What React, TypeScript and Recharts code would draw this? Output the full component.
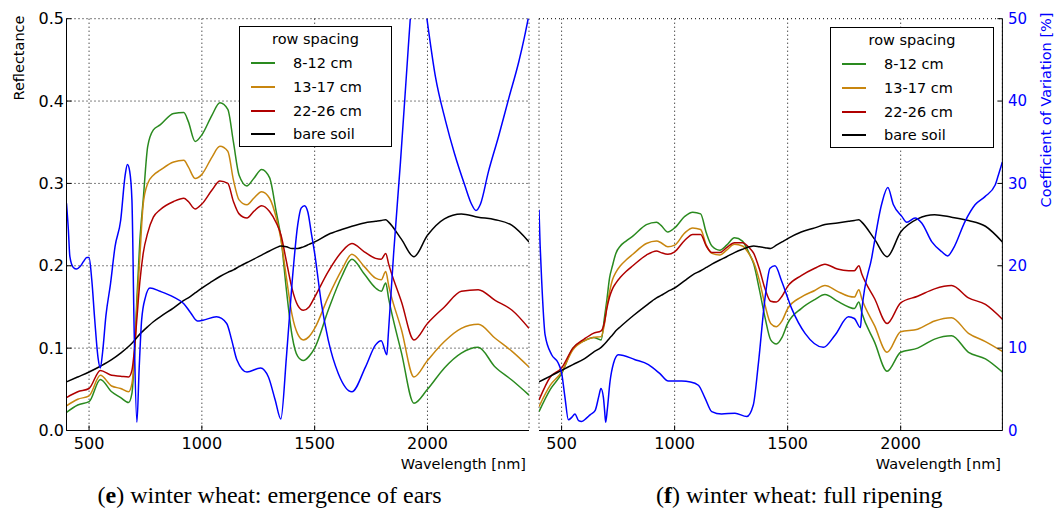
import { CartesianGrid, Line, LineChart, XAxis, YAxis } from 'recharts';

// wavelength grid [nm] shared by the reflectance curves
const wavelengths = [
  400, 450, 500, 550, 600, 640, 675, 690, 700, 712, 725, 740, 760, 785, 815, 875, 920, 940, 970, 1000,
  1045, 1080, 1115, 1140, 1165, 1200, 1230, 1265, 1300, 1330, 1350, 1375, 1400, 1425, 1450, 1475, 1500,
  1560, 1620, 1665, 1720, 1770, 1795, 1815, 1828, 1885, 1940, 2000, 2075, 2150, 2225, 2300, 2375, 2450,
];

// (e) emergence of ears
const green8to12E = [
  0.022, 0.031, 0.035, 0.062, 0.047, 0.04, 0.034, 0.045, 0.085, 0.16, 0.23, 0.28, 0.345, 0.365, 0.371,
  0.385, 0.386, 0.375, 0.351, 0.359, 0.383, 0.398, 0.39, 0.35, 0.31, 0.297, 0.306, 0.317, 0.307, 0.265,
  0.235, 0.17, 0.115, 0.09, 0.085, 0.09, 0.1, 0.146, 0.187, 0.208, 0.19, 0.173, 0.169, 0.179, 0.16,
  0.094, 0.033, 0.05, 0.076, 0.094, 0.101, 0.077, 0.061, 0.043,
];
const orange13to17E = [
  0.03, 0.038, 0.042, 0.067, 0.054, 0.051, 0.047, 0.057, 0.085, 0.15, 0.21, 0.275, 0.3, 0.31, 0.316,
  0.326, 0.328, 0.32, 0.306, 0.311, 0.332, 0.345, 0.339, 0.304, 0.28, 0.274, 0.282, 0.29, 0.282, 0.258,
  0.233, 0.185, 0.14, 0.117, 0.11, 0.114, 0.124, 0.162, 0.195, 0.214, 0.199, 0.185, 0.183, 0.193, 0.176,
  0.122, 0.065, 0.085, 0.108, 0.124, 0.129, 0.112, 0.096, 0.077,
];
const red22to26E = [
  0.04, 0.047, 0.051, 0.073, 0.067, 0.066, 0.065, 0.073, 0.095, 0.136, 0.18, 0.215, 0.24, 0.259, 0.268,
  0.278, 0.282, 0.278, 0.269, 0.275, 0.292, 0.303, 0.3, 0.278, 0.263, 0.258, 0.266, 0.273, 0.266, 0.252,
  0.238, 0.205, 0.172, 0.152, 0.146, 0.15, 0.162, 0.193, 0.217, 0.227, 0.217, 0.209, 0.208, 0.215, 0.202,
  0.156, 0.11, 0.13, 0.15, 0.169, 0.171, 0.158, 0.146, 0.124,
];
const bareSoilE = [
  0.059, 0.065, 0.071, 0.078, 0.086, 0.094, 0.102, 0.106, 0.109, 0.113, 0.117, 0.121, 0.126, 0.132, 0.138,
  0.149, 0.158, 0.161, 0.167, 0.173, 0.181, 0.187, 0.192, 0.195, 0.199, 0.204, 0.208, 0.213, 0.218, 0.222,
  0.224, 0.223, 0.221, 0.221, 0.223, 0.226, 0.229, 0.238, 0.244, 0.248, 0.252, 0.254, 0.255, 0.256, 0.253,
  0.232, 0.211, 0.237, 0.257, 0.263, 0.259, 0.256, 0.249, 0.229,
];
const cvWavelengthsE = [
  400, 408, 415, 430, 445, 460, 475, 490, 500, 512, 525, 540, 550, 560, 575, 595, 615, 640, 660, 670,
  680, 690, 700, 712, 722, 733, 750, 770, 815, 875, 920, 950, 980, 1005, 1065, 1110, 1132, 1155, 1200, 1260,
  1295, 1325, 1350, 1375, 1400, 1425, 1440, 1455, 1470, 1485, 1500, 1530, 1560, 1605, 1665, 1725, 1770, 1795,
  1820, 1826, 1850, 1880, 1910, 1925, 1945, 1970, 1995, 2035, 2080, 2120, 2165, 2195, 2215, 2235, 2270, 2315,
  2360, 2405, 2430, 2450,
];
const cvE = [
  27.6, 24.5, 21.1, 19.8, 19.6, 19.9, 20.5, 21.0, 21.0, 18.3, 13.5, 8.8, 7.6, 9.5, 14.0, 17.8, 22.3, 25.5,
  31.0, 32.3, 31.5, 28.0, 12.0, 1.0, 7.5, 13.4, 16.2, 17.3, 16.9, 16.2, 15.4, 14.3, 13.3, 13.4, 13.8, 13.0,
  11.0, 8.6, 7.1, 7.6, 6.5, 3.7, 1.4, 9.0, 18.0, 25.0, 27.0, 27.3, 26.5, 24.0, 21.5, 15.4, 11.0, 6.9, 4.7,
  7.7, 10.4, 10.9, 9.2, 11.5, 21.5, 32.5, 44.5, 50.5, 57.0, 55.5, 50.5, 43.0, 37.6, 33.6, 29.8, 27.5, 26.7,
  27.5, 31.4, 35.7, 40.3, 44.8, 47.8, 50.5,
];

// (f) full ripening
const green8to12F = [
  0.023, 0.05, 0.069, 0.1, 0.109, 0.113, 0.11, 0.138, 0.158, 0.185, 0.2, 0.215, 0.224, 0.23, 0.236,
  0.25, 0.253, 0.249, 0.241, 0.246, 0.26, 0.265, 0.263, 0.24, 0.224, 0.219, 0.225, 0.234, 0.23, 0.215,
  0.202, 0.171, 0.137, 0.11, 0.105, 0.113, 0.13, 0.148, 0.159, 0.165, 0.157, 0.15, 0.148, 0.156, 0.143,
  0.107, 0.072, 0.095, 0.1, 0.111, 0.115, 0.095, 0.087, 0.071,
];
const orange13to17F = [
  0.029, 0.055, 0.071, 0.098, 0.109, 0.113, 0.114, 0.13, 0.15, 0.168, 0.183, 0.192, 0.2, 0.207, 0.214,
  0.227, 0.23, 0.228, 0.223, 0.225, 0.24, 0.246, 0.244, 0.225, 0.215, 0.213, 0.219, 0.226, 0.224, 0.214,
  0.204, 0.182, 0.152, 0.13, 0.126, 0.133, 0.148, 0.162, 0.17, 0.176, 0.169, 0.163, 0.162, 0.171, 0.16,
  0.127, 0.095, 0.12, 0.123, 0.133, 0.137, 0.118, 0.108, 0.096,
];
const red22to26F = [
  0.037, 0.065, 0.076, 0.1, 0.111, 0.118, 0.121, 0.132, 0.148, 0.162, 0.172, 0.179, 0.186, 0.193, 0.2,
  0.213, 0.218, 0.216, 0.214, 0.217, 0.231, 0.238, 0.238, 0.224, 0.216, 0.216, 0.222, 0.228, 0.228, 0.222,
  0.215, 0.196, 0.172, 0.157, 0.156, 0.163, 0.175, 0.188, 0.197, 0.202, 0.196, 0.194, 0.194, 0.2, 0.19,
  0.16, 0.13, 0.155, 0.163, 0.172, 0.176, 0.161, 0.153, 0.135,
];
const bareSoilF = [
  0.059, 0.066, 0.073, 0.08, 0.087, 0.095, 0.101, 0.105, 0.108, 0.112, 0.116, 0.121, 0.126, 0.132, 0.139,
  0.152, 0.161, 0.164, 0.169, 0.173, 0.182, 0.189, 0.194, 0.198, 0.202, 0.207, 0.211, 0.216, 0.22, 0.223,
  0.224, 0.223, 0.222, 0.221, 0.225, 0.229, 0.233, 0.241, 0.246, 0.25, 0.252, 0.254, 0.255, 0.256, 0.253,
  0.232, 0.211, 0.241, 0.257, 0.262, 0.259, 0.255, 0.248, 0.229,
];
const cvWavelengthsF = [
  400, 405, 412, 427, 456, 485, 500, 515, 530, 545, 559, 575, 589, 610, 626, 648, 665, 674, 685, 690,
  695, 702, 714, 730, 751, 825, 884, 935, 972, 1031, 1070, 1105, 1135, 1164, 1208, 1267, 1319, 1348, 1370,
  1400, 1422, 1444, 1474, 1518, 1577, 1658, 1710, 1769, 1795, 1822, 1828, 1872, 1916, 1943, 1968, 2005,
  2027, 2064, 2093, 2138, 2182, 2208, 2233, 2285, 2329, 2373, 2418, 2432, 2450,
];
const cvF = [
  26.8, 22.5, 18.1, 11.6, 9.2, 8.2, 7.0, 4.0, 1.3, 1.6, 2.0, 1.2, 1.1, 1.5, 1.9, 2.4, 4.2, 5.1, 4.0, 2.5,
  1.0, 2.5, 5.9, 8.2, 9.2, 8.6, 8.0, 6.9, 6.0, 6.0, 5.9, 5.5, 3.9, 2.3, 2.0, 2.1, 1.7, 3.1, 8.0, 16.1,
  19.7, 20.0, 18.1, 14.8, 11.8, 10.1, 11.6, 13.8, 13.6, 12.5, 14.5, 21.0, 27.5, 29.5, 27.4, 26.0, 25.3,
  25.8, 25.2, 22.9, 21.7, 21.2, 22.1, 25.4, 27.4, 28.4, 29.8, 31.0, 32.6,
];

const xTicks = [500, 1000, 1500, 2000];
const reflTicks = [0, 0.1, 0.2, 0.3, 0.4, 0.5];
const cvTicks = [0, 10, 20, 30, 40, 50];

const legendLabels = ['8-12 cm', '13-17 cm', '22-26 cm', 'bare soil'];
const seriesKeys = ['g', 'o', 'r', 's'];
const seriesColors = ['#2a8a1f', '#c8860f', '#b00000', '#000000'];
const cvColor = '#0000ff';

const buildRefl = (g: number[], o: number[], r: number[], s: number[]) =>
  wavelengths.map((wl, i) => ({ wl, g: g[i], o: o[i], r: r[i], s: s[i] }));
const buildCv = (wls: number[], cv: number[]) => wls.map((wl, i) => ({ wl, cv: cv[i] }));

const reflE = buildRefl(green8to12E, orange13to17E, red22to26E, bareSoilE);
const reflF = buildRefl(green8to12F, orange13to17F, red22to26F, bareSoilF);
const cvDataE = buildCv(cvWavelengthsE, cvE);
const cvDataF = buildCv(cvWavelengthsF, cvF);

const axisStroke = { stroke: '#000' };
const rowY = [36, 60, 84, 107];

const SeriesLegend = ({ left, top, width }: { left: number; top: number; width: number }) => (
  <div
    style={{
      position: 'absolute',
      left,
      top,
      width,
      height: 121,
      border: '1px solid #000',
      background: '#fff',
      boxSizing: 'border-box',
      fontSize: 14.5,
      color: '#000',
    }}
  >
    <div style={{ position: 'absolute', left: 0, right: 0, top: 4, textAlign: 'center', lineHeight: '16px' }}>
      row spacing
    </div>
    {legendLabels.map((label, i) => (
      <div key={label}>
        <div
          style={{
            position: 'absolute',
            left: 11,
            top: rowY[i] - 1,
            width: 24,
            height: 2,
            background: seriesColors[i],
          }}
        />
        <div style={{ position: 'absolute', left: 53, top: rowY[i] - 8, lineHeight: '16px', whiteSpace: 'nowrap' }}>
          {label}
        </div>
      </div>
    ))}
  </div>
);

const RotatedLabel = ({ cx, cy, color, text }: { cx: number; cy: number; color: string; text: string }) => (
  <div
    style={{
      position: 'absolute',
      left: cx,
      top: cy,
      transform: 'translate(-50%, -50%) rotate(-90deg)',
      whiteSpace: 'nowrap',
      fontSize: 14.5,
      lineHeight: 1,
      color,
    }}
  >
    {text}
  </div>
);

const Panel = ({
  refl,
  cv,
  first,
}: {
  refl: Record<string, number>[];
  cv: { wl: number; cv: number }[];
  first: boolean;
}) => (
  <LineChart
    width={first ? 534 : 522}
    height={480}
    data={refl}
    margin={first ? { top: 18.7, right: 5, bottom: 0, left: 0 } : { top: 18.7, right: 0, bottom: 0, left: 5 }}
  >
    <CartesianGrid stroke="#000" strokeDasharray="1 3" strokeWidth={1} />
    <XAxis
      dataKey="wl"
      type="number"
      domain={[400, 2450]}
      ticks={xTicks}
      interval={0}
      allowDataOverflow
      height={49.5}
      tickSize={-5}
      tickMargin={12.5}
      tick={{ fontSize: 16, fill: '#000' }}
      axisLine={axisStroke}
      tickLine={axisStroke}
    />
    <XAxis
      xAxisId="top"
      orientation="top"
      dataKey="wl"
      type="number"
      domain={[400, 2450]}
      ticks={xTicks}
      interval={0}
      allowDataOverflow
      height={0}
      tickSize={-5}
      tick={false}
      axisLine={axisStroke}
      tickLine={axisStroke}
    />
    <YAxis
      type="number"
      domain={[0, 0.5]}
      ticks={reflTicks}
      interval={0}
      allowDataOverflow
      width={first ? 66.5 : 0}
      tickSize={-5}
      tickMargin={7.5}
      tick={first ? { fontSize: 16, fill: '#000' } : false}
      tickFormatter={(v: number) => v.toFixed(1)}
      axisLine={axisStroke}
      tickLine={axisStroke}
    />
    {first ? (
      <YAxis
        yAxisId="mirror"
        orientation="right"
        type="number"
        domain={[0, 0.5]}
        ticks={reflTicks}
        interval={0}
        allowDataOverflow
        width={0}
        tickSize={-5}
        tick={false}
        axisLine={axisStroke}
        tickLine={axisStroke}
      />
    ) : null}
    <YAxis
      yAxisId="cv"
      orientation="right"
      type="number"
      domain={[0, 50]}
      ticks={cvTicks}
      interval={0}
      allowDataOverflow
      hide={first}
      width={53.6}
      tickSize={-5}
      tickMargin={10.6}
      tick={{ fontSize: 15, fill: cvColor }}
      axisLine={axisStroke}
      tickLine={axisStroke}
    />
    {seriesKeys.map((key, i) => (
      <Line
        key={key}
        type="monotone"
        dataKey={key}
        stroke={seriesColors[i]}
        strokeWidth={1.5}
        dot={false}
        activeDot={false}
        isAnimationActive={false}
      />
    ))}
    <Line
      yAxisId="cv"
      data={cv}
      type="monotone"
      dataKey="cv"
      stroke={cvColor}
      strokeWidth={1.5}
      dot={false}
      activeDot={false}
      isAnimationActive={false}
    />
  </LineChart>
);

const captionStyle = {
  position: 'absolute' as const,
  top: 482.8,
  fontFamily: '"Liberation Serif", serif',
  fontSize: 24,
  lineHeight: 1,
  whiteSpace: 'nowrap' as const,
  color: '#000',
};

export default function App() {
  return (
    <div
      style={{
        position: 'absolute',
        left: 0,
        top: 0,
        width: 1056,
        height: 518,
        background: '#fff',
        fontFamily: '"DejaVu Sans", sans-serif',
        overflow: 'hidden',
      }}
    >
      <div style={{ position: 'absolute', left: 0, top: 0 }}>
        <Panel refl={reflE} cv={cvDataE} first />
      </div>
      <div style={{ position: 'absolute', left: 534, top: 0 }}>
        <Panel refl={reflF} cv={cvDataF} first={false} />
      </div>

      <SeriesLegend left={239} top={26} width={153} />
      <SeriesLegend left={830} top={27} width={164} />

      <RotatedLabel cx={18.6} cy={57.5} color="#000" text="Reflectance" />
      <RotatedLabel cx={1045.5} cy={110} color={cvColor} text="Coefficient of Variation [%]" />

      <div style={{ position: 'absolute', right: 1056 - 526, top: 457, fontSize: 14.5, lineHeight: 1, whiteSpace: 'nowrap' }}>
        Wavelength [nm]
      </div>
      <div style={{ position: 'absolute', right: 1056 - 1001, top: 457, fontSize: 14.5, lineHeight: 1, whiteSpace: 'nowrap' }}>
        Wavelength [nm]
      </div>

      <div style={{ ...captionStyle, left: 97.6 }}>
        (<b>e</b>) winter wheat: emergence of ears
      </div>
      <div style={{ ...captionStyle, left: 656 }}>
        (<b>f</b>) winter wheat: full ripening
      </div>
    </div>
  );
}
